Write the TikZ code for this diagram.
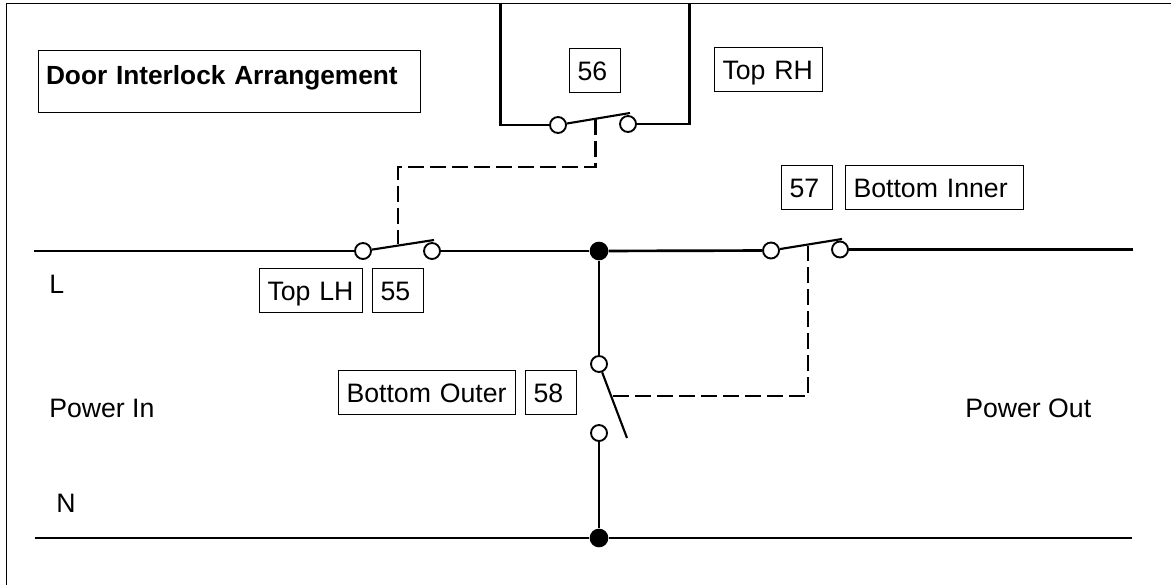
\documentclass[tikz,border=0pt]{standalone}
\usepackage{fontspec}
\setmainfont{Liberation Sans}
\tikzset{
    wire/.style={line width=2pt},
    blade/.style={line width=1.6pt},
    link/.style={line width=1.6pt, dash pattern=on 12pt off 4.5pt},
    contact/.style={circle, draw, line width=1.4pt, fill=white, minimum size=12pt, inner sep=0pt},
    junction/.style={circle, fill=black, minimum size=14pt, inner sep=0pt},
    tag/.style={draw, line width=0.75pt, font=\fontsize{20}{24}\selectfont, align=left, inner xsep=6pt, inner ysep=0pt, text height=24pt, text depth=9pt, anchor=north west},
    plain/.style={font=\fontsize{20}{24}\selectfont, inner sep=0pt, anchor=base west}
}
\begin{document}
\begin{tikzpicture}[x=0.75pt, y=-0.75pt]
    \useasboundingbox (0,0) rectangle (1171,585);

    % Frame, open on the right and at the bottom
    \coordinate (cornerBL) at (6.5,585);
    \coordinate (cornerTL) at (6.5,3.5);
    \coordinate (cornerTR) at (1171,3.5);
    \draw[line width=1pt] (cornerBL) -- (cornerTL) -- (cornerTR);

    % Title
    \node[draw, line width=0.75pt, font=\bfseries\fontsize{19.7}{24}\selectfont, align=left, inner xsep=6pt, inner ysep=0pt, text width=275pt, text height=25pt, text depth=21.5pt, anchor=north west] (title) at (37.5,50.5) {Door Interlock Arrangement};

    % Tags
    \foreach \name/\x/\y/\w/\txt in {n56/569/48/51/56, toprh/714/47/108/Top RH, n57/781/165/51/57, bottominner/845/165/178/Bottom Inner, toplh/259/268/103/Top LH, n55/372/268/51/55, bottomouter/338/370/177/Bottom Outer, n58/525/370/51/58}
        \node[tag, text width=(\w-16)*0.75pt] (\name) at (\x,\y) {\txt};

    % Plain labels
    \node[plain] (lineL) at (49,293) {L};
    \node[plain] (powerin) at (49,417) {Power In};
    \node[plain] (powerout) at (965,417) {Power Out};
    \node[plain] (lineN) at (56,512) {N};

    % Contacts and junctions
    \foreach \name/\x/\y in {a55/363/251, b55/432/251, a56/558/125, b56/628/124, a57/771/250.5, b57/840/249.5, a58/599/364, b58/599/433}
        \node[contact] (\name) at (\x,\y) {};
    \node[junction] (top) at (599,251) {};
    \node[junction] (bot) at (599,538) {};

    % Free ends of wires
    \coordinate (inL) at (34,251);
    \coordinate (outL) at (1133,249.5);
    \coordinate (inN) at (35,538);
    \coordinate (outN) at (1132,538);
    \coordinate (up1) at (500.7,3);
    \coordinate (up2) at (689.5,3);
    \coordinate (elbow1) at (500.7,125);
    \coordinate (elbow2) at (689.5,124);

    % Wires
    \draw[wire] (inL) -- (a55);
    \draw[wire] (b55) -- (top);
    \draw[wire] (top) -- (a57);
    \draw[wire] (b57) -- (outL);
    \draw[wire] (inN) -- (bot);
    \draw[wire] (bot) -- (outN);
    \draw[wire] (top) -- (a58);
    \draw[wire] (b58) -- (bot);
    \draw[wire] (up1) -- (elbow1) -- (a56);
    \draw[wire] (b56) -- (elbow2) -- (up2);

    % Switch blades
    \coordinate (tip55) at (434,240);
    \coordinate (tip56) at (630,113);
    \coordinate (tip57) at (842,239);
    \coordinate (tip58) at (627,438);
    \draw[blade] (a55) -- (tip55);
    \draw[blade] (a56) -- (tip56);
    \draw[blade] (a57) -- (tip57);
    \draw[blade] (a58) -- (tip58);

    % Dashed links
    \coordinate (pin56) at (595.5,119);
    \coordinate (bend56) at (398,167);
    \coordinate (pin55) at (398,244);
    \coordinate (pin57) at (808,246);
    \coordinate (pin58) at (613,396);
    \draw[link] (pin56) |- (bend56) -- (pin55);
    \draw[link] (pin58) -| (pin57);
\end{tikzpicture}
\end{document}
